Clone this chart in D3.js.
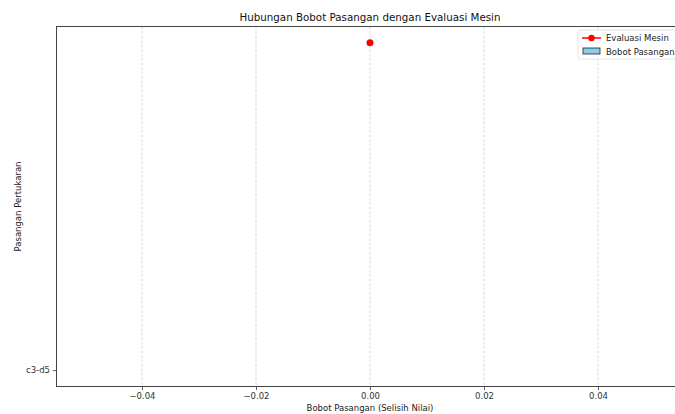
<!DOCTYPE html>
<html>
<head>
<meta charset="utf-8">
<script src="https://cdn.jsdelivr.net/npm/d3@7"></script>
<style>
  body { margin: 0; background: #fff; }
  svg { font-family: "DejaVu Sans", sans-serif; }
</style>
</head>
<body>
<div id="graphicContainer"></div>
<script>

// chart data
const pairs = ["c3-d5"]
const weights = [0]
const evaluations = [0.3]
const xTickValues = [-0.04, -0.02, 0, 0.02, 0.04]

const width = 675
const height = 414

const margin = { left: 56.5, top: 26.5, bottom: 27.5 }
const plotRight = 683.5

const svg = d3.select("#graphicContainer")
  .append("svg")
  .attr("width", width)
  .attr("height", height)

// x: matplotlib style autoscale around a single zero value
const x = d3.scaleLinear()
  .domain([-0.055, 0.055])
  .range([margin.left, plotRight])

// y: category index 0 plus evaluation values, 5% margins
const yMax = d3.max(evaluations)
const yMin = 0
const pad = (yMax - yMin) * 0.05
const y = d3.scaleLinear()
  .domain([yMin - pad, yMax + pad])
  .range([height - margin.bottom, margin.top])

const features = svg.append("g")

// grid
features.selectAll(".grid")
  .data(xTickValues)
  .enter()
  .append("line")
  .attr("class", "grid")
  .attr("x1", d => x(d))
  .attr("x2", d => x(d))
  .attr("y1", margin.top)
  .attr("y2", height - margin.bottom)
  .attr("stroke", "#c8c8c8")
  .attr("stroke-opacity", 0.8)
  .attr("stroke-width", 0.8)
  .attr("stroke-dasharray", "3,1.5")

// bars (zero width here)
features.selectAll(".bar")
  .data(pairs)
  .enter()
  .append("rect")
  .attr("class", "bar")
  .attr("x", (d, i) => Math.min(x(0), x(weights[i])))
  .attr("width", (d, i) => Math.abs(x(weights[i]) - x(0)))
  .attr("y", (d, i) => y(i + 0.4))
  .attr("height", (d, i) => Math.abs(y(i - 0.4) - y(i + 0.4)))
  .attr("fill", "skyblue")
  .attr("stroke", "black")

// evaluation line + points
features.append("path")
  .datum(weights.map((w, i) => [w, evaluations[i]]))
  .attr("fill", "none")
  .attr("stroke", "red")
  .attr("stroke-width", 1.5)
  .attr("d", d3.line().x(d => x(d[0])).y(d => y(d[1])))

features.selectAll(".evalDot")
  .data(weights.map((w, i) => [w, evaluations[i]]))
  .enter()
  .append("circle")
  .attr("class", "evalDot")
  .attr("cx", d => x(d[0]))
  .attr("cy", d => y(d[1]))
  .attr("r", 3.5)
  .attr("fill", "red")

// x axis
const xAxis = svg.append("g")
  .attr("transform", `translate(0,${height - margin.bottom})`)
  .call(d3.axisBottom(x)
    .tickValues(xTickValues)
    .tickSize(3.5)
    .tickSizeOuter(0)
    .tickPadding(3)
    .tickFormat(d => d3.format(".2f")(d).replace("-", "\u2212")))

xAxis.select(".domain").remove()
xAxis.selectAll("line").attr("stroke", "#333").attr("stroke-width", 0.8)
xAxis.selectAll("text")
  .attr("font-size", 8.5)
  .attr("fill", "#333")
  .attr("font-family", "DejaVu Sans")

// y axis
const yAxis = svg.append("g")
  .attr("transform", `translate(${margin.left},0)`)
  .call(d3.axisLeft(y)
    .tickValues(pairs.map((d, i) => i))
    .tickSize(3.5)
    .tickSizeOuter(0)
    .tickPadding(3)
    .tickFormat(i => pairs[i]))

yAxis.select(".domain").remove()
yAxis.selectAll("line").attr("stroke", "#333").attr("stroke-width", 0.8)
yAxis.selectAll("text")
  .attr("font-size", 8.5)
  .attr("fill", "#333")
  .attr("font-family", "DejaVu Sans")

// frame
svg.append("rect")
  .attr("x", margin.left)
  .attr("y", margin.top)
  .attr("width", plotRight - margin.left)
  .attr("height", height - margin.bottom - margin.top)
  .attr("fill", "none")
  .attr("stroke", "#444")
  .attr("stroke-width", 1)

// title + labels
svg.append("text")
  .attr("x", (margin.left + plotRight) / 2)
  .attr("y", 21)
  .attr("text-anchor", "middle")
  .attr("font-size", 10.3)
  .attr("fill", "#111")
  .text("Hubungan Bobot Pasangan dengan Evaluasi Mesin")

svg.append("text")
  .attr("x", (margin.left + plotRight) / 2)
  .attr("y", 411)
  .attr("text-anchor", "middle")
  .attr("font-size", 8.5)
  .attr("fill", "#222")
  .text("Bobot Pasangan (Selisih Nilai)")

svg.append("text")
  .attr("transform", `translate(21,${(margin.top + height - margin.bottom) / 2}) rotate(-90)`)
  .attr("text-anchor", "middle")
  .attr("font-size", 8.5)
  .attr("fill", "#222")
  .text("Pasangan Pertukaran")

// legend
const legend = svg.append("g").attr("transform", "translate(578,30)")

legend.append("rect")
  .attr("x", 0).attr("y", 0)
  .attr("width", 120).attr("height", 29)
  .attr("rx", 2)
  .attr("fill", "#fff")
  .attr("fill-opacity", 0.8)
  .attr("stroke", "#ddd")
  .attr("stroke-width", 0.8)

legend.append("line")
  .attr("x1", 4).attr("x2", 23)
  .attr("y1", 8).attr("y2", 8)
  .attr("stroke", "red").attr("stroke-width", 1.5)

legend.append("circle")
  .attr("cx", 13.5).attr("cy", 8).attr("r", 3.2)
  .attr("fill", "red")

legend.append("rect")
  .attr("x", 5).attr("y", 18)
  .attr("width", 17).attr("height", 6)
  .attr("fill", "skyblue")
  .attr("stroke", "#222")
  .attr("stroke-width", 0.8)

const legendKeys = ["Evaluasi Mesin", "Bobot Pasangan"]
legend.selectAll(".keyText")
  .data(legendKeys)
  .enter()
  .append("text")
  .attr("class", "keyText")
  .attr("x", 28)
  .attr("y", (d, i) => 11 + i * 14)
  .attr("font-size", 8.5)
  .attr("fill", "#222")
  .text(d => d)

</script>
</body>
</html>
